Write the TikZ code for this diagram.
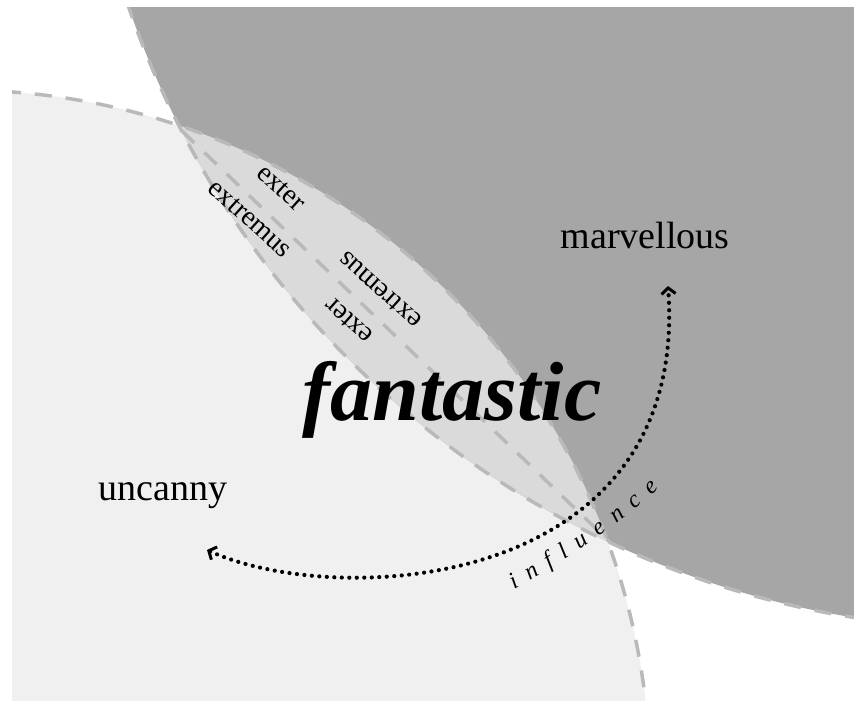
\documentclass[tikz,border=0pt]{standalone}
\usepackage{fontspec}
\setmainfont{Liberation Serif}
\usetikzlibrary{arrows.meta,decorations.text}
\definecolor{lightreg}{HTML}{F0F0F0}
\definecolor{darkreg}{HTML}{A6A6A6}
\definecolor{lensreg}{HTML}{DADADA}
\definecolor{dashc}{HTML}{B9B9B9}
\begin{document}
\begin{tikzpicture}[x=1pt,y=-1pt,
  boundary/.style={draw=dashc,line width=3.5pt,dash pattern=on 17pt off 14pt},
  word/.style={font=\fontsize{38}{40}\selectfont, inner sep=0pt},
  latin/.style={font=\fontsize{28}{30}\selectfont, inner sep=0pt},
  bigword/.style={font=\fontsize{84}{86}\selectfont\bfseries\itshape, inner sep=0pt},
  dotarrow/.style={line width=4.2pt, line cap=round, dash pattern=on 0pt off 7.5pt,
    arrows={Straight Barb[length=6pt,width=14pt,line width=3pt]-Straight Barb[length=6pt,width=14pt,line width=3pt]}}
]
\useasboundingbox (0,0) rectangle (854,709);
\fill[white] (0,0) rectangle (854,709);
\coordinate (lc) at (-40,780);
\coordinate (dc) at (1000,-292);
\coordinate (p1) at (182,131);
\coordinate (p2) at (610,542);
\begin{scope}
  \clip (12,8) rectangle (854,700);
  \fill[lightreg] (lc) circle[radius=690pt];
  \fill[darkreg] (dc) circle[radius=921pt];
  \begin{scope}
    \clip (lc) circle[radius=690pt];
    \fill[lensreg] (dc) circle[radius=921pt];
  \end{scope}
  \draw[boundary] (lc) circle[radius=690pt];
  \draw[boundary] (dc) circle[radius=921pt];
  \draw[boundary] (p1) -- (p2);
\end{scope}

\node[word, anchor=base] (marv) at (645,248) {marvellous};
\node[word, anchor=base] (unc) at (163,500) {uncanny};
\node[bigword, anchor=base] (fant) at (452,420) {fantastic};

\node[latin, rotate=-42] (ex1) at (281,188) {exter};
\node[latin, rotate=-42] (exm1) at (250,219) {extremus};
\node[latin, rotate=138] (exm2) at (380,290) {extremus};
\node[latin, rotate=138] (ex2) at (349,321) {exter};

\coordinate (ua) at (207,550);
\coordinate (ma) at (668,286);
\draw[dotarrow] (ua) .. controls (340,610) and (690,590) .. (ma);

\coordinate (i1) at (514,589);
\coordinate (i2) at (659,488);
\path[decorate, decoration={text along path, text align=fit to path,
  text={|\fontsize{24}{26}\selectfont\itshape|influence}}]
  (i1) .. controls (555,566) and (615,530) .. (i2);
\end{tikzpicture}
\end{document}
